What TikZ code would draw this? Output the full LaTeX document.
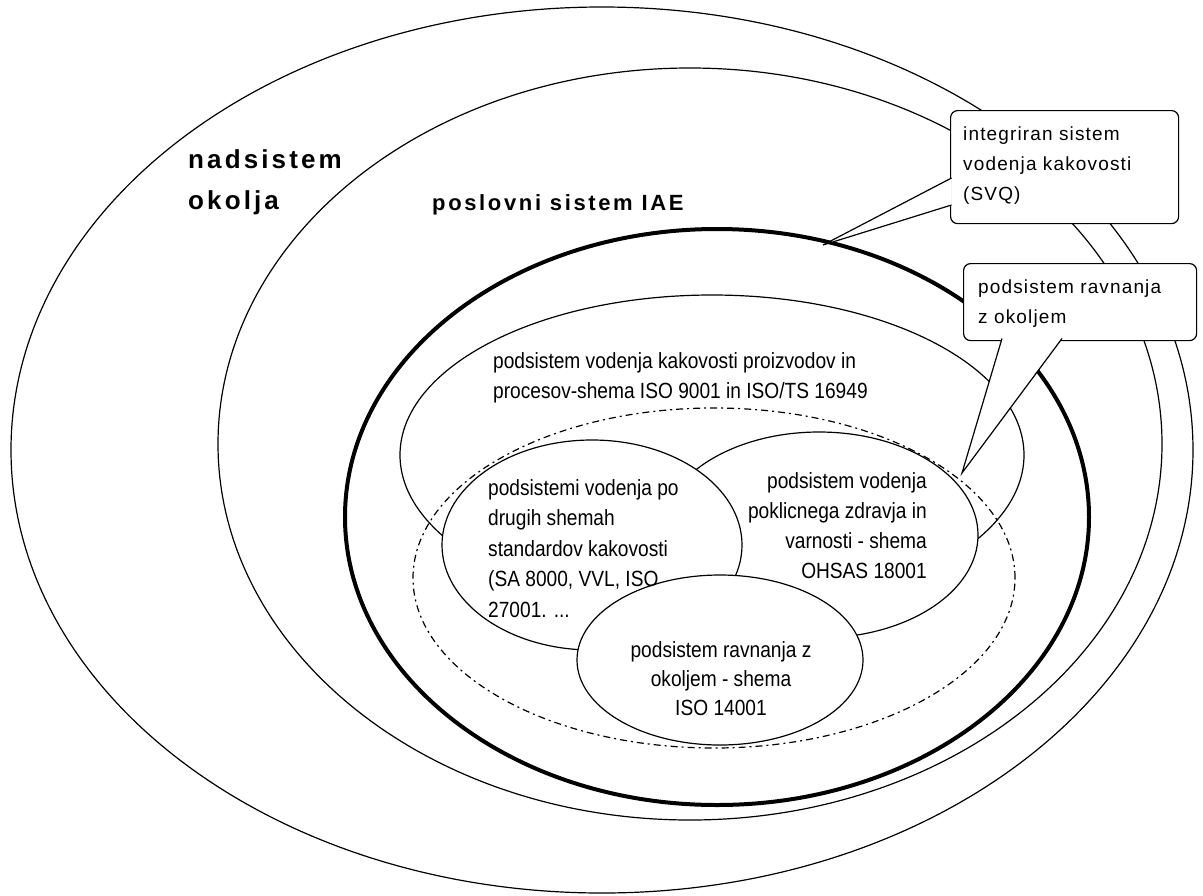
\documentclass[tikz,border=0pt]{standalone}
\usepackage{fontspec}
\setmainfont{Liberation Sans}
\newfontfamily\narrowfont[FakeStretch=0.87]{Liberation Sans}
\newfontfamily\lblfont[LetterSpace=12]{Liberation Sans}
\newfontfamily\ctfont[LetterSpace=6]{Liberation Sans}
\usetikzlibrary{shapes.geometric}
\begin{document}
\begin{tikzpicture}[x=1pt,y=-1pt,
  ell/.style={ellipse, draw=black, inner sep=0pt, outer sep=0pt, line width=1.2pt},
  grpline/.style={dash pattern=on 7pt off 4pt on 2pt off 4pt},
  inner/.style={font=\narrowfont\fontsize{22}{30}\selectfont, inner sep=0pt, align=left},
  biglbl/.style={font=\lblfont\bfseries\fontsize{26}{41}\selectfont, inner sep=0pt, align=left},
  midlbl/.style={font=\lblfont\bfseries\fontsize{22}{30}\selectfont, inner sep=0pt},
  box/.style={draw=black, fill=white, line width=1.2pt, rounded corners=7pt, inner sep=0pt, anchor=north west},
  ctext/.style={font=\ctfont\fontsize{19}{30}\selectfont, inner sep=0pt, align=left, anchor=base west},
  ptr/.style={draw=black, line width=1.2pt, line join=miter}
]
\useasboundingbox (0,0) rectangle (1203,895);
\fill[white] (0,0) rectangle (1203,895);
% ellipses
\node[ell, minimum width=1182pt, minimum height=886pt] (env) at (602,450) {};
\node[ell, minimum width=944pt, minimum height=752pt] (biz) at (690,444) {};
\node[ell, line width=4pt, minimum width=744pt, minimum height=576pt] (svq) at (717,517) {};
\node[ell, minimum width=624pt, minimum height=320pt] (qms) at (712,455) {};
\node[ell, grpline, minimum width=602pt, minimum height=340pt] (grp) at (714,578) {};
\node[ell, fill=white, minimum width=318pt, minimum height=206pt] (ohs) at (819,535) {};
\node[ell, fill=white, minimum width=300pt, minimum height=210pt] (oth) at (592,545) {};
\node[ell, fill=white, minimum width=286pt, minimum height=170pt] (ems) at (720,660) {};
% labels (anchored at the baseline of the last line)
\node[biglbl, anchor=base west] (tEnv) at (188,209) {nadsistem\\okolja};
\node[midlbl, anchor=base west] (tBiz) at (432,210) {poslovni sistem IAE};
\node[inner, anchor=base west] (tQms) at (493,398) {podsistem vodenja kakovosti proizvodov in\\procesov-shema ISO 9001 in ISO/TS 16949};
\node[inner, font=\narrowfont\fontsize{22}{30.5}\selectfont, anchor=base west] (tOth) at (488,617) {podsistemi vodenja po\\drugih shemah\\standardov kakovosti\\(SA 8000, VVL, ISO\\27001. ...};
\node[inner, anchor=base east, align=right] (tOhs) at (927,578) {podsistem vodenja\\poklicnega zdravja in\\varnosti - shema\\OHSAS 18001};
\node[inner, font=\narrowfont\fontsize{22}{29}\selectfont, anchor=base, align=center] (tEms) at (721,715) {podsistem ravnanja z\\okoljem - shema\\ISO 14001};
% callout 1
\node[box, minimum width=228pt, minimum height=113pt] (c1) at (950,110) {};
\coordinate (p1a) at (951.5,178);
\coordinate (p1b) at (951.5,205);
\coordinate (tip1) at (823,245);
\fill[white] (p1a) -- (tip1) -- (p1b) -- cycle;
\draw[ptr] (p1a) -- (tip1) -- (p1b);
\node[ctext] (tc1) at (963,200) {integriran sistem\\vodenja kakovosti\\(SVQ)};
% callout 2
\node[box, minimum width=233pt, minimum height=77pt] (c2) at (963,263) {};
\coordinate (p2a) at (1002,338.5);
\coordinate (p2b) at (1062,338.5);
\coordinate (tip2) at (962,473);
\fill[white] (p2a) -- (tip2) -- (p2b) -- cycle;
\draw[ptr] (p2a) -- (tip2) -- (p2b);
\node[ctext] (tc2) at (978,323) {podsistem ravnanja\\z okoljem};
\end{tikzpicture}
\end{document}
